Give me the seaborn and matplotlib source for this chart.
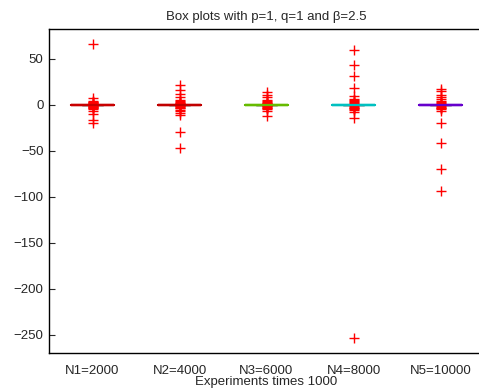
import pandas as pd
import matplotlib
matplotlib.use("Agg")
import matplotlib.pyplot as plt
import seaborn as sns

# categories and colours
groups = ["N1=2000", "N2=4000", "N3=6000", "N4=8000", "N5=10000"]
group_colors = ["#c80000", "#c00000", "#66bb00", "#00c0c0", "#6600cc"]

# bulk of the runs sit right on zero (tiny box)
core = [-0.3, -0.2, -0.1, -0.1, 0.0, 0.0, 0.0, 0.0, 0.0, 0.0, 0.0, 0.0,
        0.0, 0.0, 0.0, 0.0, 0.0, 0.0, 0.0, 0.0, 0.0, 0.0, 0.0, 0.0,
        0.0, 0.0, 0.1, 0.1, 0.2, 0.3]

# outlying values
out_n1 = [66.5, 7.5, 4, 3, 2.5, 2, 1.5, 1, -1, -1.5, -2, -2.5, -3, -4,
          -5, -7, -10, -16, -20]
out_n2 = [21.5, 16.5, 12, 8.5, 5, 4, 3, 2, 1.5, 1, -1, -1.5, -2, -3, -4,
          -5.5, -7, -9, -11, -30, -47]
out_n3 = [14, 11, 8, 5, 4, 3, 2, 1.5, 1, -1, -1.5, -2, -3, -4, -5, -7, -12]
out_n4 = [59, 43.5, 31, 18, 9, 6, 5, 4, 3, 2, 1, -1, -2, -3, -4, -5, -6,
          -8, -14.5, -253]
out_n5 = [17, 14.5, 11, 8, 6, 4, 3, 2, 1, -1, -2, -3, -4, -5, -7, -20,
          -42, -70, -94]

outliers = [out_n1, out_n2, out_n3, out_n4, out_n5]

rows = []
for g, extra in zip(groups, outliers):
    for v in core + extra:
        rows.append({"group": g, "value": v})
df = pd.DataFrame(rows)

sns.set_style("white")
plt.rcParams["font.family"] = ["Liberation Sans", "DejaVu Sans"]

fig = plt.figure(figsize=(4.79, 3.89), dpi=100)
ax = fig.add_axes([49 / 479, (389 - 353.3) / 389, 435 / 479, 324 / 389])

sns.boxplot(
    data=df, x="group", y="value", hue="group", order=groups,
    palette=group_colors, fill=False, legend=False, width=0.5, whis=1.5,
    linewidth=1.6, ax=ax,
    flierprops=dict(marker="+", markeredgecolor="red", markersize=7,
                    markeredgewidth=1.0),
    capprops=dict(color="#555555", linewidth=1.0),
)

ax.set_ylim(-270, 82)
ax.set_xlim(-0.5, 4.5)
ax.set_yticks([50, 0, -50, -100, -150, -200, -250])
ax.set_yticklabels(["50", "0", "\u221250", "\u2212100", "\u2212150", "\u2212200", "\u2212250"])
ax.tick_params(axis="y", labelsize=9.5, direction="in", length=4,
               left=True, right=False, pad=4)
ax.tick_params(axis="x", labelsize=9.5, bottom=False, top=False, pad=5)
ax.set_title("Box plots with p=1, q=1 and \u03b2=2.5", fontsize=9.5, pad=7)
ax.set_xlabel("Experiments times 1000", fontsize=9.5, labelpad=-1)
ax.set_ylabel("")
for s in ax.spines.values():
    s.set_color("black")
    s.set_linewidth(1.0)

fig.savefig("out.png", dpi=100)
